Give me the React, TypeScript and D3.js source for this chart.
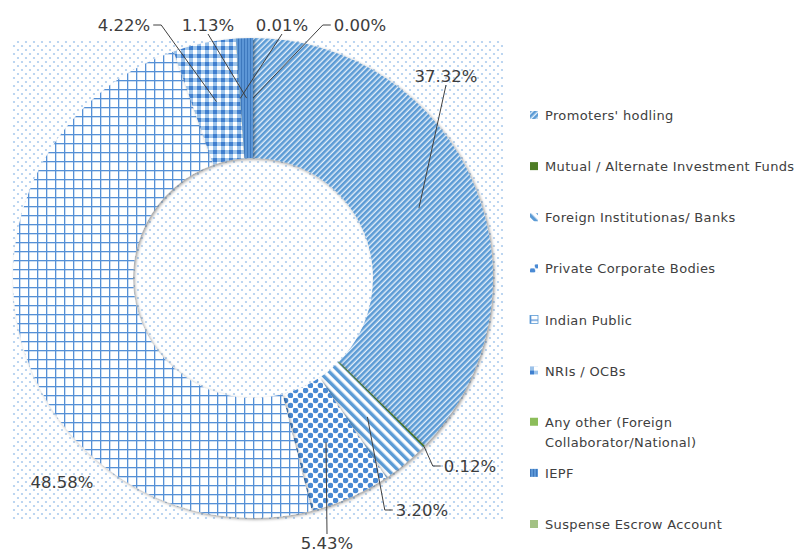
import React, { useRef, useEffect } from 'react';
import * as d3 from 'd3';

// shareholding categories, in legend order
const categories = [
  "Promoters' hodling",
  'Mutual / Alternate Investment Funds',
  'Foreign Institutionas/ Banks',
  'Private Corporate Bodies',
  'Indian Public',
  'NRIs / OCBs',
  'Any other (Foreign Collaborator/National)',
  'IEPF',
  'Suspense Escrow Account'
];
const legendLines = [
  ["Promoters' hodling"],
  ['Mutual / Alternate Investment Funds'],
  ['Foreign Institutionas/ Banks'],
  ['Private Corporate Bodies'],
  ['Indian Public'],
  ['NRIs / OCBs'],
  ['Any other (Foreign', 'Collaborator/National)'],
  ['IEPF'],
  ['Suspense Escrow Account']
];
const shares = [37.32, 0.12, 3.2, 5.43, 48.58, 4.22, 0.01, 1.13, 0.0];
const shareLabels = ['37.32%', '0.12%', '3.20%', '5.43%', '48.58%', '4.22%', '0.01%', '1.13%', '0.00%'];

// label layout (Excel moved these by hand / best fit)
const labelPos: [number, number][] = [
  [446, 76], [470, 466], [422, 510], [327, 543], [62, 482],
  [124, 25], [282, 25], [208, 25], [360, 25]
];
const attach = ['bottom', 'left', 'left', 'top', null, 'right', 'bottom', 'bottom', 'left'];
const leaderR = [0.5, 1, 0.5, 0.5, 0, 0.5, 0.5, 0.5, 0.5];

const W = 801;
const H = 553;
const cx = 253;
const cy = 278;
const rOuter = 240;
const rInner = 120;

const fills = [
  'url(#p-promo)', '#4e7d25', 'url(#p-foreign)', 'url(#p-private)', 'url(#p-public)',
  'url(#p-nri)', '#8cbd5a', 'url(#p-iepf)', '#a3c184'
];

const ShareholdingDonut = () => {
  const svgRef = useRef<SVGSVGElement>(null);

  useEffect(() => {
    const svg = d3.select(svgRef.current);
    svg.selectAll('*').remove();
    const defs = svg.append('defs');

    const pattern = (id: string, w: number, h: number, transform?: string) =>
      defs
        .append('pattern')
        .attr('id', id)
        .attr('patternUnits', 'userSpaceOnUse')
        .attr('width', w)
        .attr('height', h)
        .attr('patternTransform', transform ?? null);

    // plot area dots
    const bg = pattern('p-bg', 8, 8);
    bg.append('rect').attr('width', 8).attr('height', 8).attr('fill', '#fff');
    bg.append('circle').attr('cx', 2).attr('cy', 2).attr('r', 1.1).attr('fill', '#acccee');
    bg.append('circle').attr('cx', 6).attr('cy', 6).attr('r', 1.1).attr('fill', '#acccee');

    const promo = pattern('p-promo', 4, 4, 'rotate(45)');
    promo.append('rect').attr('width', 4).attr('height', 4).attr('fill', '#e4effa');
    promo.append('rect').attr('width', 2.6).attr('height', 4).attr('fill', '#5b9bd5');

    const foreign = pattern('p-foreign', 7, 7, 'rotate(-45)');
    foreign.append('rect').attr('width', 7).attr('height', 7).attr('fill', '#fff');
    foreign.append('rect').attr('width', 3.4).attr('height', 7).attr('fill', '#5b9bd5');

    const priv = pattern('p-private', 10, 10);
    priv.append('rect').attr('width', 10).attr('height', 10).attr('fill', '#fff');
    [[2.5, 2.5], [7.5, 7.5]].forEach(([x, y]) =>
      priv.append('circle').attr('cx', x).attr('cy', y).attr('r', 2.8).attr('fill', '#4a8ad4')
    );

    const pub = pattern('p-public', 9, 9);
    pub.append('rect').attr('width', 9).attr('height', 9).attr('fill', '#fff');
    pub.append('rect').attr('width', 1.3).attr('height', 9).attr('fill', '#5590d6');
    pub.append('rect').attr('width', 9).attr('height', 1.3).attr('fill', '#5590d6');

    const nri = pattern('p-nri', 8, 8);
    nri.append('rect').attr('width', 8).attr('height', 8).attr('fill', '#9cc3ea');
    nri.append('rect').attr('width', 4).attr('height', 4).attr('fill', '#3f7fcf');
    nri.append('rect').attr('x', 4).attr('y', 4).attr('width', 4).attr('height', 4).attr('fill', '#fff');

    const iepf = pattern('p-iepf', 3, 3);
    iepf.append('rect').attr('width', 3).attr('height', 3).attr('fill', '#5b96d6');
    iepf.append('rect').attr('width', 1).attr('height', 3).attr('fill', '#3d78bd');

    const shadow = defs
      .append('filter')
      .attr('id', 'shadow')
      .attr('x', '-20%')
      .attr('y', '-20%')
      .attr('width', '140%')
      .attr('height', '140%');
    shadow
      .append('feDropShadow')
      .attr('dx', 1.5)
      .attr('dy', 1.5)
      .attr('stdDeviation', 1.6)
      .attr('flood-color', '#000')
      .attr('flood-opacity', 0.4);

    // plot area
    svg
      .append('rect')
      .attr('x', 12)
      .attr('y', 40)
      .attr('width', 491)
      .attr('height', 480)
      .attr('fill', 'url(#p-bg)');

    const pie = d3.pie<number>().sort(null).value(d => d);
    const arcs = pie(shares);
    const arc = d3
      .arc<d3.PieArcDatum<number>>()
      .innerRadius(rInner)
      .outerRadius(rOuter);

    const g = svg.append('g').attr('transform', `translate(${cx},${cy})`);
    g.selectAll('path')
      .data(arcs)
      .join('path')
      .attr('d', arc)
      .attr('fill', (d, i) => fills[i])
      .attr('filter', 'url(#shadow)');

    // data labels + leader lines
    const font = '"DejaVu Sans", Verdana, sans-serif';
    arcs.forEach((a, i) => {
      const [lx, ly] = labelPos[i];
      const t = svg
        .append('text')
        .attr('x', lx)
        .attr('y', ly)
        .attr('text-anchor', 'middle')
        .attr('dominant-baseline', 'central')
        .style('font-family', font)
        .style('font-size', '16.5px')
        .attr('fill', '#3c3c3c')
        .text(shareLabels[i]);
      const side = attach[i];
      if (!side) return;
      const w = (t.node() as SVGTextElement).getComputedTextLength();
      const mid = (a.startAngle + a.endAngle) / 2;
      const r = rInner + (rOuter - rInner) * leaderR[i];
      const tx = cx + r * Math.sin(mid);
      const ty = cy - r * Math.cos(mid);
      let pts: [number, number][];
      if (side === 'bottom') pts = [[lx, ly + 9], [tx, ty]];
      else if (side === 'top') pts = [[lx, ly - 9], [tx, ty]];
      else if (side === 'left') pts = [[lx - w / 2 - 3, ly], [lx - w / 2 - 11, ly], [tx, ty]];
      else pts = [[lx + w / 2 + 3, ly], [lx + w / 2 + 11, ly], [tx, ty]];
      svg
        .append('path')
        .attr('d', d3.line()(pts))
        .attr('fill', 'none')
        .attr('stroke', '#404040')
        .attr('stroke-width', 1);
    });

    // legend
    const legendY = d3
      .scalePoint<string>()
      .domain(categories)
      .range([115, 524]);
    const legend = svg
      .selectAll('g.legend')
      .data(categories)
      .join('g')
      .attr('class', 'legend')
      .attr('transform', d => `translate(530,${legendY(d)})`);
    legend
      .append('rect')
      .attr('x', 0)
      .attr('y', -4)
      .attr('width', 8)
      .attr('height', 8)
      .attr('fill', (d, i) => fills[i])
      .attr('stroke', (d, i) => (i === 4 ? '#5b9bd5' : 'none'))
      .attr('stroke-width', 0.8);
    legend.each(function (d, i) {
      const txt = d3
        .select(this)
        .append('text')
        .attr('x', 15)
        .attr('y', 0)
        .attr('dominant-baseline', 'central')
        .style('font-family', font)
        .style('font-size', '13px')
        .style('letter-spacing', '0.35px')
        .attr('fill', '#404040');
      legendLines[i].forEach((line, k) => {
        txt.append('tspan').attr('x', 15).attr('dy', k === 0 ? 0 : 20).text(line);
      });
    });
  }, []);

  return (
    <svg
      ref={svgRef}
      width={W}
      height={H}
      style={{ position: 'absolute', left: 0, top: 0, background: '#fff' }}
    ></svg>
  );
};

export default ShareholdingDonut;
